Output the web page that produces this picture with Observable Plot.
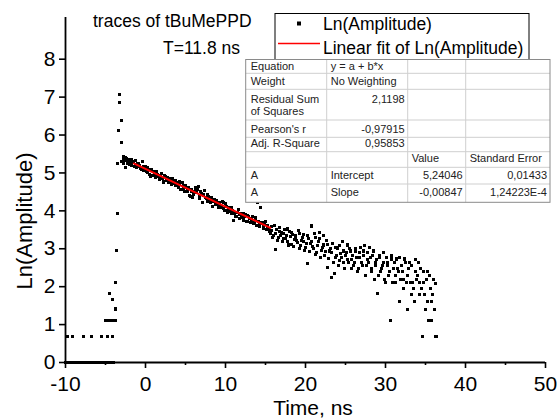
<!DOCTYPE html>
<html><head><meta charset="utf-8">
<script src="https://cdn.jsdelivr.net/npm/d3@7"></script>
<script src="https://cdn.jsdelivr.net/npm/@observablehq/plot@0.6"></script>
<style>
body{margin:0;background:#fff;}
#wrap{width:557px;height:419px;}
</style></head><body><div id="wrap"></div>
<script>
// ---- data (time in ns, Ln(Amplitude)) ----
const baseline = [[-10,0],[-9.8,0],[-9.6,0],[-9.4,0],[-9.2,0],[-9,0],[-8.8,0],[-8.6,0],[-8.4,0],[-8.2,0],[-8,0],[-7.8,0],[-7.6,0],[-7.4,0],[-7.2,0],[-7,0],[-6.8,0],[-6.6,0],[-6.4,0],[-6.2,0],[-6,0],[-5.8,0],[-5.6,0],[-5.4,0],[-5.2,0],[-5,0],[-4.8,0],[-4.6,0],[-4.4,0],[-4.2,0],[-4,0]];
const lowLevels = [[-9.7,0.69],[-9.1,0.69],[-7.8,0.69],[-6.8,0.69],[-5.5,0.69],[-4.7,0.69],[-4.1,0.69],[-5.0,1.10],[-4.8,1.10],[-4.6,1.10],[-4.4,1.10],[-4.2,1.10],[-4.0,1.10],[-3.8,1.10]];
const rise = [[-4.5,1.82],[-4.1,1.65],[-3.8,1.41],[-3.75,2.11],[-3.65,2.95],[-3.55,3.92],[-3.45,5.25],[-3.4,6.13],[-3.25,6.86],[-3.25,7.08],[-3.0,6.38],[-2.95,5.80],[-3.0,5.30],[-2.7,5.42],[-2.5,5.14]];
const decayEarly = [[-2.8,5.26],[-2.6,5.34],[-2.4,5.38],[-2.2,5.30],[-2.0,5.22],[-1.8,5.36],[-1.6,5.28],[-1.4,5.18],[-1.2,5.32],[-1.0,5.24],
[-0.8,5.20],[-0.6,5.12],[-0.4,5.30],[-0.2,5.06],[0,5.16],[0.2,5.02],[0.4,5.10],[0.6,4.92],[0.8,5.08],[1.0,5.04],
[1.2,4.94],[1.4,5.04],[1.6,4.90],[1.8,4.86],[2.0,4.98],[2.2,4.76],[2.4,4.92],[2.6,4.80],[2.8,4.88],[3.0,4.82],
[3.2,4.76],[3.4,4.86],[3.6,4.72],[3.8,4.80],[4.0,4.68],[4.2,4.78],[4.4,4.56],[4.6,4.74],[4.8,4.58],[5.0,4.66],
[5.2,4.50],[5.4,4.62],[5.6,4.38],[5.8,4.56],[6.0,4.42],[6.2,4.60],[6.4,4.48],[6.6,4.64],[6.8,4.38],[7.0,4.46],
[7.2,4.40],[7.4,4.54],[7.6,4.32],[7.8,4.44],[8.0,4.28],[8.2,4.36],[8.4,4.12],[8.6,4.30],[8.8,4.24],[9.0,4.18],
[9.2,4.22],[9.4,4.12],[9.6,4.24],[9.8,4.06],[10.0,4.20],[10.2,4.02],[10.4,4.08],[10.6,3.98],[10.8,4.10],[11.0,3.74],
[11.2,3.96],[11.4,3.86],[11.6,4.04],[11.8,3.90],[12.0,3.82],[12.2,3.94],[12.4,3.84],[12.6,3.72],[12.8,3.88],[13.0,3.80],
[13.2,3.74],[13.4,3.84],[13.6,3.70],[13.8,3.82],[14.0,4.22],[14.2,3.64],[14.4,4.09],[14.6,3.68],[14.8,3.58],[15.0,3.72],[15.2,3.62],[15.4,3.52]];
const decayEarlyMid = [[-2.7,5.32],[-2.5,5.40],[-2.3,5.24],[-2.1,5.34],[-1.9,5.28],[-1.7,5.20],[-1.5,5.30],[-1.3,5.22],[-1.1,5.14],[-0.9,5.26],
[-0.7,5.16],[-0.5,5.08],[-0.3,5.18],[-0.1,5.12],[0.1,5.04],[0.3,5.14],[0.5,4.96],[0.7,5.06],[0.9,4.94],[1.1,5.00],
[1.3,4.88],[1.5,4.96],[1.7,4.84],[1.9,4.94],[2.1,4.86],[2.3,4.78],[2.5,4.90],[2.7,4.84],[2.9,4.74],[3.1,4.86],
[3.3,4.70],[3.5,4.80],[3.7,4.66],[3.9,4.74],[4.1,4.62],[4.3,4.72],[4.5,4.56],[4.7,4.66],[4.9,4.52],[5.1,4.62],
[5.3,4.56],[5.5,4.40],[5.7,4.52],[5.9,4.36],[6.1,4.50],[6.3,4.62],[6.5,4.56],[6.7,4.34],[6.9,4.50],[7.1,4.22],
[7.3,4.44],[7.5,4.36],[7.7,4.26],[7.9,4.38],[8.1,4.22],[8.3,4.32],[8.5,4.26],[8.7,4.16],[8.9,4.28],[9.1,4.10],
[9.3,4.18],[9.5,4.08],[9.7,4.22],[9.9,4.00],[10.1,4.12],[10.3,3.96],[10.5,4.06],[10.7,3.92],[10.9,4.02],[11.1,3.94],
[11.3,3.84],[11.5,3.96],[11.7,3.80],[11.9,3.92],[12.1,3.86],[12.3,3.76],[12.5,3.90],[12.7,3.72],[12.9,3.84],[13.1,3.70],
[13.3,3.80],[13.5,3.66],[13.7,3.76],[13.9,3.62],[14.1,3.72],[14.3,3.58],[14.5,3.70],[14.7,3.54],[14.9,3.64],[15.1,3.50],[15.3,3.60],[15.5,3.46]];
const decayLate = [[15.6,3.40],[15.8,3.58],[16.0,3.36],[16.2,2.99],[16.4,3.50],[16.6,3.30],[16.8,3.56],[17.0,3.42],[17.2,3.26],[17.4,3.50],
[17.6,3.34],[17.8,3.20],[18.0,3.46],[18.2,3.12],[18.4,3.38],[18.6,3.24],[18.8,3.30],[19.0,3.16],[19.2,3.40],[19.4,3.08],
[19.6,3.30],[19.8,3.18],[20.0,3.04],[20.2,2.60],[20.4,3.26],[20.6,3.14],[20.8,3.60],[21.0,3.00],[21.2,3.30],[21.4,2.90],
[21.6,3.18],[21.8,3.44],[22.0,2.96],[22.2,3.10],[22.4,2.82],[22.6,3.22],[22.8,2.50],[23.0,2.94],[23.2,2.24],[23.4,3.14],
[23.6,2.34],[23.8,2.78],[24.0,3.02],[24.2,2.70],[24.4,2.88],[24.6,3.20],[24.8,2.64],[25.0,2.83],[25.2,3.10],[25.4,2.64],
[25.6,2.94],[25.8,2.71],[26.0,2.56],[26.2,3.00],[26.4,2.77],[26.6,2.48],[26.8,2.89],[27.0,2.64],[27.2,2.94],[27.4,3.08],
[27.6,2.56],[27.8,2.71],[28.0,3.04],[28.2,2.48],[28.4,2.83],[28.6,2.20],[28.8,2.64],[29.0,1.82],[29.2,2.77],[29.4,2.40],
[29.6,2.56],[29.8,2.89],[30.0,2.11],[30.2,2.64],[30.4,2.30],[30.6,1.10],[30.8,2.81],[31.0,2.48],[31.2,2.11],[31.4,2.73],
[31.6,2.40],[31.8,1.61],[32.0,2.56],[32.2,2.20],[32.4,2.73],[32.6,2.11],[32.8,1.39],[33.0,2.64],[33.2,1.79],[33.4,2.11],
[33.6,1.61],[33.8,2.71],[34.0,2.30],[34.2,1.79],[34.4,2.48],[34.6,0.69],[34.8,2.11],[35.0,1.39],[35.2,2.40],[35.4,1.10],
[35.6,1.95],[35.8,1.61],[36.0,2.20],[36.2,0.69],[36.4,0.69]];
const decayLateMid = [[15.7,3.48],[15.9,3.30],[16.1,3.62],[16.3,3.40],[16.5,3.22],[16.7,3.46],[16.9,3.36],[17.1,3.18],[17.3,3.40],[17.5,3.28],
[17.7,3.52],[17.9,3.10],[18.1,3.32],[18.3,3.44],[18.5,3.06],[18.7,3.36],[18.9,3.22],[19.1,3.48],[19.3,3.00],[19.5,3.22],
[19.7,3.38],[19.9,2.96],[20.1,3.14],[20.3,3.34],[20.5,2.92],[20.7,3.20],[20.9,3.06],[21.1,3.40],[21.3,2.86],[21.5,3.08],
[21.7,3.26],[21.9,2.78],[22.1,3.04],[22.3,3.36],[22.5,2.92],[22.7,3.12],[22.9,2.74],[23.1,3.00],[23.3,2.89],[23.5,2.64],
[23.7,3.04],[23.9,2.83],[24.1,2.56],[24.3,3.08],[24.5,2.77],[24.7,2.94],[24.9,2.48],[25.1,2.89],[25.3,2.71],[25.5,3.00],
[25.7,2.48],[25.9,2.83],[26.1,2.64],[26.3,2.94],[26.5,2.40],[26.7,2.77],[26.9,3.04],[27.1,2.56],[27.3,2.83],[27.5,2.30],
[27.7,2.89],[27.9,2.64],[28.1,2.77],[28.3,2.40],[28.5,2.94],[28.7,2.56],[28.9,2.71],[29.1,2.30],[29.3,2.83],[29.5,2.48],
[29.7,2.64],[29.9,2.20],[30.1,2.77],[30.3,2.56],[30.5,2.40],[30.7,2.71],[30.9,2.11],[31.1,2.64],[31.3,2.30],[31.5,2.48],
[31.7,2.77],[31.9,2.20],[32.1,2.40],[32.3,1.95],[32.5,2.64],[32.7,2.30],[32.9,2.48],[33.1,2.11],[33.3,2.56],[33.5,1.95],
[33.7,2.40],[33.9,2.20],[34.1,2.64],[34.3,2.11],[34.5,1.95],[34.7,2.40],[34.9,1.79],[35.1,2.20],[35.3,1.61],[35.5,2.30],
[35.7,1.10],[35.9,1.79],[36.1,1.39],[36.3,2.08]];
const fitLine = [[-1.46,5.25],[15.6,3.55]];
const xTicks = [-10,0,10,20,30,40,50];
const xMinorTicks = [-5,5,15,25,35,45];
const yTicks = [0,1,2,3,4,5,6,7,8];
const titleLines = ["traces of tBuMePPD","T=11.8 ns"];
const legendLabels = ["Ln(Amplitude)","Linear fit of Ln(Amplitude)"];
const tableRows = [
  ["Equation","y = a + b*x","",""],
  ["Weight","No Weighting","",""],
  ["Residual Sum\nof Squares","2,1198","",""],
  ["Pearson's r","-0,97915","",""],
  ["Adj. R-Square","0,95853","",""],
  ["","","Value","Standard Error"],
  ["A","Intercept","5,24046","0,01433"],
  ["A","Slope","-0,00847","1,24223E-4"]
];

const points = [...baseline, ...lowLevels, ...rise, ...decayEarly, ...decayEarlyMid, ...decayLate, ...decayLateMid];
const FONT = "'Liberation Sans', Arial, Helvetica, sans-serif";

const chart = Plot.plot({
  width: 557, height: 419,
  marginLeft: 65, marginRight: 12, marginTop: 17, marginBottom: 57,
  x: {domain: [-10, 50]},
  y: {domain: [0, 9.1]},
  style: {fontFamily: FONT, fontSize: "21px", color: "#000", background: "#fff", overflow: "visible"},
  marks: [
    Plot.axisX({ticks: xMinorTicks, tickSize: 3, tickFormat: () => "", label: null, strokeWidth: 1.6}),
    Plot.axisX({ticks: xTicks, tickSize: 6, tickPadding: 8, tickFormat: d => String(d), label: null, strokeWidth: 1.6}),
    Plot.axisY({ticks: yTicks, tickSize: 6, tickPadding: 4, tickFormat: d => String(d), label: null, strokeWidth: 1.6}),
    Plot.dot(points, {x: d => d[0], y: d => d[1], symbol: "square", r: 1.75, fill: "#000", shapeRendering: "crispEdges"}),
    Plot.ruleY([0], {stroke: "#000", strokeWidth: 1.8}),
    Plot.ruleX([-10], {stroke: "#000", strokeWidth: 1.8}),
    Plot.line(fitLine, {x: d => d[0], y: d => d[1], stroke: "#ff0000", strokeWidth: 2})
  ]
});
document.getElementById("wrap").appendChild(chart);

const svg = d3.select(chart);
const g = svg.append("g").attr("font-family", FONT).attr("fill", "#000").attr("text-anchor", "start");

// axis titles
g.append("text").text("Time, ns").attr("x", 313).attr("y", 415).attr("text-anchor", "middle").attr("font-size", 21);
g.append("text").text("Ln(Amplitude)").attr("transform", "translate(32,221) rotate(-90)").attr("text-anchor", "middle").attr("font-size", 22);

// annotation
g.append("text").text(titleLines[0]).attr("x", 93).attr("y", 27).attr("font-size", 17.5);
g.append("text").text(titleLines[1]).attr("x", 163).attr("y", 54).attr("font-size", 17.5);

// legend
g.append("rect").attr("x", 275).attr("y", 13.5).attr("width", 254).attr("height", 47).attr("fill", "#fff").attr("stroke", "#000").attr("stroke-width", 1);
g.append("rect").attr("x", 297).attr("y", 21.5).attr("width", 4).attr("height", 4).attr("fill", "#000");
g.append("text").text(legendLabels[0]).attr("x", 323).attr("y", 29.5).attr("font-size", 17.5);
g.append("line").attr("x1", 278).attr("x2", 320).attr("y1", 43.5).attr("y2", 43.5).attr("stroke", "#ff0000").attr("stroke-width", 1.5);
g.append("text").text(legendLabels[1]).attr("x", 323).attr("y", 53.5).attr("font-size", 17.5);

// stats table
const colX = [245.7, 326.7, 407.7, 465.7, 550];
const rowY = [59.5, 73.3, 89.3, 120, 137.3, 151.7, 167.3, 184, 202.3];
const tg = g.append("g").attr("font-size", 11).attr("fill", "#222");
tg.append("rect").attr("x", colX[0]).attr("y", rowY[0]).attr("width", colX[4]-colX[0]).attr("height", rowY[8]-rowY[0]).attr("fill", "#fff");
for (let i = 1; i < rowY.length - 1; i++)
  tg.append("line").attr("x1", colX[0]).attr("x2", colX[4]).attr("y1", rowY[i]).attr("y2", rowY[i]).attr("stroke", "#cfcfcf");
for (let j = 1; j < colX.length - 1; j++)
  tg.append("line").attr("x1", colX[j]).attr("x2", colX[j]).attr("y1", rowY[0]).attr("y2", rowY[8]).attr("stroke", "#cfcfcf");
tg.append("rect").attr("x", colX[0]).attr("y", rowY[0]).attr("width", colX[4]-colX[0]).attr("height", rowY[8]-rowY[0]).attr("fill", "none").attr("stroke", "#8a8a8a");
const baseOff = [10, 11.5, 13.3, 13.3, 10, 10.6, 12, 12];
const isNum = s => /^-?[0-9]/.test(s);
tableRows.forEach((row, i) => {
  row.forEach((cell, j) => {
    if (!cell) return;
    const lines = cell.split("\n");
    const right = isNum(cell);
    lines.forEach((ln, k) => {
      tg.append("text").text(ln)
        .attr("x", right ? colX[j+1] - 3 : colX[j] + (j === 0 ? 5 : 4))
        .attr("y", rowY[i] + baseOff[i] + k * 12.5)
        .attr("text-anchor", right ? "end" : "start");
    });
  });
});
</script></body></html>
